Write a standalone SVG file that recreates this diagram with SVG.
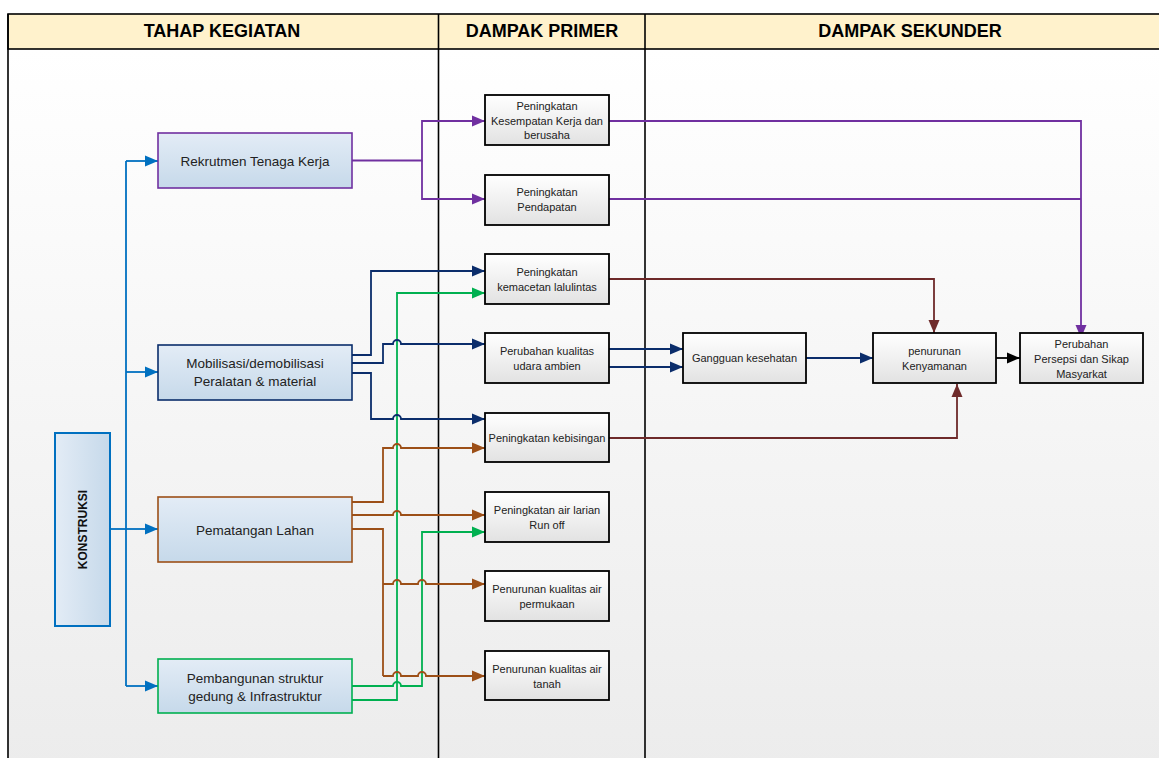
<svg xmlns="http://www.w3.org/2000/svg" width="1159" height="758" viewBox="0 0 1159 758">
<defs>
<linearGradient id="bg" x1="0" y1="0" x2="0" y2="1"><stop offset="0" stop-color="#ffffff"/><stop offset="1" stop-color="#ececec"/></linearGradient>
<linearGradient id="lb" x1="0" y1="0" x2="0" y2="1"><stop offset="0" stop-color="#e3ecf6"/><stop offset="1" stop-color="#c6d9ea"/></linearGradient>
<linearGradient id="lbh" x1="0" y1="0" x2="1" y2="0"><stop offset="0" stop-color="#e3ecf6"/><stop offset="1" stop-color="#c6d9ea"/></linearGradient>
<linearGradient id="gb" x1="0" y1="0" x2="0" y2="1"><stop offset="0" stop-color="#ffffff"/><stop offset="1" stop-color="#e2e2e2"/></linearGradient>
<marker id="aP" markerUnits="userSpaceOnUse" markerWidth="14" markerHeight="12" refX="13" refY="6" orient="auto"><path d="M0,0.5 L13,6 L0,11.5 z" fill="#7030A0"/></marker>
<marker id="aB" markerUnits="userSpaceOnUse" markerWidth="14" markerHeight="12" refX="13" refY="6" orient="auto"><path d="M0,0.5 L13,6 L0,11.5 z" fill="#0070C0"/></marker>
<marker id="aN" markerUnits="userSpaceOnUse" markerWidth="14" markerHeight="12" refX="13" refY="6" orient="auto"><path d="M0,0.5 L13,6 L0,11.5 z" fill="#0B2D6B"/></marker>
<marker id="aG" markerUnits="userSpaceOnUse" markerWidth="14" markerHeight="12" refX="13" refY="6" orient="auto"><path d="M0,0.5 L13,6 L0,11.5 z" fill="#00B050"/></marker>
<marker id="aO" markerUnits="userSpaceOnUse" markerWidth="14" markerHeight="12" refX="13" refY="6" orient="auto"><path d="M0,0.5 L13,6 L0,11.5 z" fill="#9C4F17"/></marker>
<marker id="aR" markerUnits="userSpaceOnUse" markerWidth="14" markerHeight="12" refX="13" refY="6" orient="auto"><path d="M0,0.5 L13,6 L0,11.5 z" fill="#6E2A2A"/></marker>
<marker id="aK" markerUnits="userSpaceOnUse" markerWidth="14" markerHeight="12" refX="13" refY="6" orient="auto"><path d="M0,0.5 L13,6 L0,11.5 z" fill="#000000"/></marker>
</defs>
<style>
.hdr{font-family:"Liberation Sans",Arial,sans-serif;font-weight:bold;font-size:18px;fill:#000;text-anchor:middle}
.lt{font-family:"Liberation Sans",Arial,sans-serif;font-size:13.5px;fill:#222;text-anchor:middle}
.mt{font-family:"Liberation Sans",Arial,sans-serif;font-size:11px;fill:#222;text-anchor:middle}
.lbox{fill:url(#lb);stroke-width:1.6}
.mbox{fill:url(#gb);stroke:#000;stroke-width:1.8}
.c{fill:none;stroke-width:1.8}
.p{stroke:#7030A0}.b{stroke:#0070C0}.n{stroke:#0B2D6B}.g{stroke:#00B050}.o{stroke:#9C4F17}.r{stroke:#6E2A2A}.k{stroke:#000}
</style>
<rect x="0" y="0" width="1159" height="758" fill="#ffffff"/>
<rect x="8" y="49" width="1160" height="720" fill="url(#bg)"/>
<g id="header">
<rect x="8" y="14" width="1160" height="35" fill="#FFF2CC" stroke="#000" stroke-width="1.6"/>
<line x1="8" y1="14" x2="8" y2="758" stroke="#000" stroke-width="1.6"/>
<line x1="438.5" y1="14" x2="438.5" y2="758" stroke="#000" stroke-width="1.6"/>
<line x1="645" y1="14" x2="645" y2="758" stroke="#000" stroke-width="1.6"/>
<text class="hdr" x="222" y="37">TAHAP KEGIATAN</text>
<text class="hdr" x="542" y="37">DAMPAK PRIMER</text>
<text class="hdr" x="910" y="37">DAMPAK SEKUNDER</text>
</g>
<g id="connectors">
<path class="c b" d="M110,529 H126"/>
<path class="c b" d="M126,161 V686"/>
<path class="c b" d="M126,161 H158" marker-end="url(#aB)"/>
<path class="c b" d="M126,372 H158" marker-end="url(#aB)"/>
<path class="c b" d="M126,529 H158" marker-end="url(#aB)"/>
<path class="c b" d="M126,686 H158" marker-end="url(#aB)"/>
<path class="c p" d="M352,160.5 H422 V121 H485" marker-end="url(#aP)"/>
<path class="c p" d="M422,160.5 V199 H485" marker-end="url(#aP)"/>
<path class="c p" d="M609,121 H1081 V338" marker-end="url(#aP)"/>
<path class="c p" d="M609,199 H1081"/>
<path class="c g" d="M352,700 H397 V293 H485" marker-end="url(#aG)"/>
<path class="c g" d="M352,686 H393 a4,4 0 0 1 8,0 H422 V532 H485" marker-end="url(#aG)"/>
<path class="c n" d="M352,355 H371 V271 H485" marker-end="url(#aN)"/>
<path class="c n" d="M352,363 H383 V344 H393 a4,4 0 0 1 8,0 H485" marker-end="url(#aN)"/>
<path class="c n" d="M352,373 H371 V419 H393 a4,4 0 0 1 8,0 H485" marker-end="url(#aN)"/>
<path class="c o" d="M352,502 H383 V448 H393 a4,4 0 0 1 8,0 H485" marker-end="url(#aO)"/>
<path class="c o" d="M352,515 H393 a4,4 0 0 1 8,0 H485" marker-end="url(#aO)"/>
<path class="c o" d="M352,529 H383 V676"/>
<path class="c o" d="M383,584 H393 a4,4 0 0 1 8,0 H418 a4,4 0 0 1 8,0 H485" marker-end="url(#aO)"/>
<path class="c o" d="M383,676 H393 a4,4 0 0 1 8,0 H418 a4,4 0 0 1 8,0 H485" marker-end="url(#aO)"/>
<path class="c n" d="M609,349 H683" marker-end="url(#aN)"/>
<path class="c n" d="M609,367 H683" marker-end="url(#aN)"/>
<path class="c n" d="M806,358 H873" marker-end="url(#aN)"/>
<path class="c k" d="M996,358 H1020" marker-end="url(#aK)"/>
<path class="c r" d="M609,279 H934 V333" marker-end="url(#aR)"/>
<path class="c r" d="M609,438 H957 V384" marker-end="url(#aR)"/>
</g>
<g id="konstruksi">
<rect x="55" y="433" width="55" height="193" fill="url(#lbh)" stroke="#0070C0" stroke-width="2"/>
<text x="87" y="529.5" transform="rotate(-90 87 529.5)" text-anchor="middle" font-family="Liberation Sans, Arial, sans-serif" font-weight="bold" font-size="12" fill="#111">KONSTRUKSI</text>
</g>
<g id="rekrutmen">
<rect class="lbox" x="158" y="133" width="194" height="55" stroke="#7030A0"/>
<text class="lt" x="255" y="165.5">Rekrutmen Tenaga Kerja</text>
</g>
<g id="mobilisasi">
<rect class="lbox" x="158" y="345" width="194" height="55" stroke="#0B2D6B"/>
<text class="lt" x="255" y="368">Mobilisasi/demobilisasi</text>
<text class="lt" x="255" y="386">Peralatan &amp; material</text>
</g>
<g id="pematangan">
<rect class="lbox" x="158" y="497" width="194" height="65" stroke="#9C4F17"/>
<text class="lt" x="255" y="534.5">Pematangan Lahan</text>
</g>
<g id="pembangunan">
<rect class="lbox" x="158" y="659" width="194" height="54" stroke="#00B050"/>
<text class="lt" x="255" y="683">Pembangunan struktur</text>
<text class="lt" x="255" y="701">gedung &amp; Infrastruktur</text>
</g>
<g id="kesempatan">
<rect class="mbox" x="485" y="95" width="124" height="50"/>
<text class="mt" x="547" y="110">Peningkatan</text>
<text class="mt" x="547" y="125">Kesempatan Kerja dan</text>
<text class="mt" x="547" y="139">berusaha</text>
</g>
<g id="pendapatan">
<rect class="mbox" x="485" y="175" width="124" height="50"/>
<text class="mt" x="547" y="196">Peningkatan</text>
<text class="mt" x="547" y="211">Pendapatan</text>
</g>
<g id="kemacetan">
<rect class="mbox" x="485" y="254" width="124" height="50"/>
<text class="mt" x="547" y="276">Peningkatan</text>
<text class="mt" x="547" y="291">kemacetan lalulintas</text>
</g>
<g id="udara">
<rect class="mbox" x="485" y="333" width="124" height="50"/>
<text class="mt" x="547" y="355">Perubahan kualitas</text>
<text class="mt" x="547" y="370">udara ambien</text>
</g>
<g id="kebisingan">
<rect class="mbox" x="485" y="413" width="124" height="49"/>
<text class="mt" x="547" y="442">Peningkatan kebisingan</text>
</g>
<g id="runoff">
<rect class="mbox" x="485" y="492" width="124" height="50"/>
<text class="mt" x="547" y="514">Peningkatan air larian</text>
<text class="mt" x="547" y="529">Run off</text>
</g>
<g id="permukaan">
<rect class="mbox" x="485" y="571" width="124" height="50"/>
<text class="mt" x="547" y="593">Penurunan kualitas air</text>
<text class="mt" x="547" y="608">permukaan</text>
</g>
<g id="tanah">
<rect class="mbox" x="485" y="651" width="124" height="49"/>
<text class="mt" x="547" y="673">Penurunan kualitas air</text>
<text class="mt" x="547" y="688">tanah</text>
</g>
<g id="gangguan">
<rect class="mbox" x="683" y="333" width="123" height="50"/>
<text class="mt" x="744.5" y="362">Gangguan kesehatan</text>
</g>
<g id="kenyamanan">
<rect class="mbox" x="873" y="333" width="123" height="50"/>
<text class="mt" x="934.5" y="355">penurunan</text>
<text class="mt" x="934.5" y="370">Kenyamanan</text>
</g>
<g id="persepsi">
<rect class="mbox" x="1020" y="333" width="123" height="50"/>
<text class="mt" x="1081.5" y="348">Perubahan</text>
<text class="mt" x="1081.5" y="363">Persepsi dan Sikap</text>
<text class="mt" x="1081.5" y="378">Masyarkat</text>
</g>
</svg>
